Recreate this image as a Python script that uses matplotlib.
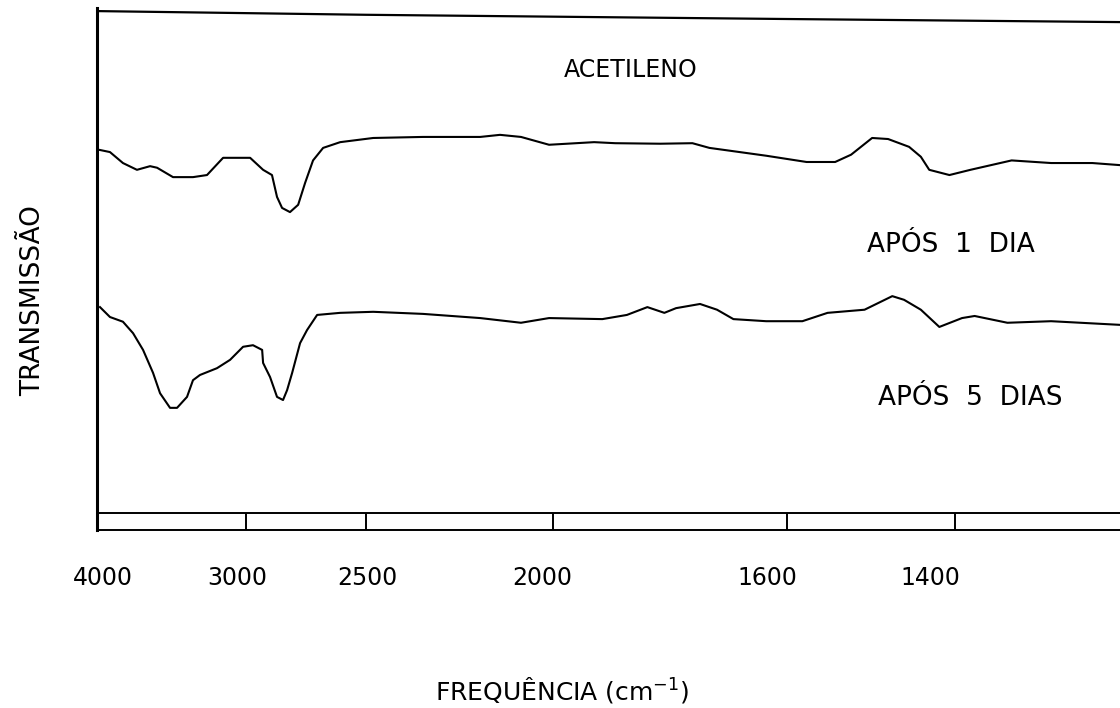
import numpy as np
import matplotlib.pyplot as plt
from matplotlib.transforms import ScaledTranslation

wn_1dia = [3980, 3913, 3826, 3732, 3644, 3597, 3490, 3356, 3262, 3154, 2983,
           2929, 2892, 2871, 2850, 2817, 2783, 2754, 2721, 2679, 2608, 2481,
           2348, 2195, 2142, 2086, 2011, 1930, 1894, 1817, 1762, 1733, 1636,
           1577, 1543, 1524, 1499, 1480, 1455, 1441, 1431, 1407, 1382, 1333,
           1286, 1237, 1204]
t_1dia = [72.8, 72.4, 70.3, 69.0, 69.7, 69.4, 67.6, 67.6, 68.0, 71.3, 71.3,
          69.0, 68.0, 63.8, 61.7, 60.9, 62.3, 66.5, 70.8, 73.2, 74.3, 75.1,
          75.3, 75.3, 75.7, 75.3, 73.8, 74.3, 74.1, 74.0, 74.1, 73.2, 71.7,
          70.5, 70.5, 71.9, 75.1, 74.9, 73.4, 71.5, 69.0, 68.0, 69.0, 70.8,
          70.3, 70.3, 69.9]

wn_5dias = [3980, 3913, 3826, 3758, 3691, 3624, 3577, 3510, 3463, 3396, 3356,
            3309, 3195, 3107, 3020, 2971, 2933, 2929, 2900, 2871, 2846, 2829,
            2808, 2775, 2746, 2704, 2608, 2481, 2348, 2195, 2086, 2011, 1916,
            1874, 1839, 1810, 1790, 1749, 1720, 1692, 1636, 1582, 1552, 1508,
            1475, 1461, 1441, 1419, 1392, 1377, 1338, 1286, 1204]
t_5dias = [42.7, 40.8, 39.9, 37.7, 34.5, 30.1, 26.2, 23.4, 23.4, 25.5, 28.7,
           29.7, 31.0, 32.6, 35.1, 35.4, 34.5, 32.0, 29.3, 25.5, 24.9, 26.8,
           30.1, 35.8, 38.3, 41.2, 41.6, 41.8, 41.4, 40.6, 39.7, 40.6, 40.4,
           41.2, 42.7, 41.6, 42.5, 43.3, 42.2, 40.4, 40.0, 40.0, 41.6, 42.2,
           44.8, 44.1, 42.2, 38.9, 40.6, 41.0, 39.7, 40.0, 39.3]

# linha de referencia (acetileno)
wn_acet = [3980, 2500, 1610, 1204]
t_acet = [99.4, 98.7, 97.9, 97.3]

ticks = [4000, 3000, 2500, 2000, 1600, 1400]
tick_labels = ['4000', '3000', '2500', '2000', '1600', '1400']
# deslocamento dos rotulos no papel original (pontos)
label_shift = [4, -6, 1, -8, -14, -18]

# escala do papel: nao linear em numero de onda
wn_breaks = np.array([1200, 1400, 1600, 2000, 2500, 3000, 4000], dtype=float)
pos_breaks = np.array([0, 168, 336, 570, 757, 877, 1026], dtype=float)


def forward(w):
    return np.interp(np.asarray(w, dtype=float), wn_breaks, pos_breaks)


def inverse(p):
    return np.interp(np.asarray(p, dtype=float), pos_breaks, wn_breaks)


plt.rcParams['font.family'] = ['DejaVu Sans']

fig = plt.figure(figsize=(11.2, 7.08), dpi=100)
ax = fig.add_axes([97 / 1120, 1 - 530 / 708, 1023 / 1120, 522 / 708])
ax.set_xscale('function', functions=(forward, inverse))
ax.set_xlim(4000, 1204)
ax.set_ylim(0, 100)

ax.plot(wn_acet, t_acet, color='black', lw=1.6)
ax.plot(wn_1dia, t_1dia, color='black', lw=1.5)
ax.plot(wn_5dias, t_5dias, color='black', lw=1.5)

# regua inferior (linha dupla)
ax.axhline(3.3, color='black', lw=1.4)

for s in ['top', 'right']:
    ax.spines[s].set_visible(False)
ax.spines['left'].set_linewidth(2.2)
ax.spines['bottom'].set_linewidth(1.4)

ax.set_xticks(ticks)
ax.set_xticklabels(tick_labels)
ax.minorticks_off()
ax.tick_params(axis='x', direction='in', length=12, width=1.4, pad=26,
               labelsize=17)
ax.set_yticks([])
for lab, dx in zip(ax.get_xticklabels(), label_shift):
    lab.set_transform(lab.get_transform()
                      + ScaledTranslation(dx / 72, 0, fig.dpi_scale_trans))

ax.text(1868, 88.1, 'ACETILENO', ha='center', va='center', fontsize=17)
ax.text(1405, 54.6, 'APÓS  1  DIA', ha='center', va='center', fontsize=19)
ax.text(1382, 25.3, 'APÓS  5  DIAS', ha='center', va='center', fontsize=19)

fig.text(0.0295, 0.576, 'TRANSMISSÃO', rotation=90, ha='center',
         va='center', fontsize=19)
fig.text(0.502, 0.012, r'FREQUÊNCIA (cm$^{-1}$)', ha='center',
         va='baseline', fontsize=18)

fig.savefig('out.png', dpi=100)
